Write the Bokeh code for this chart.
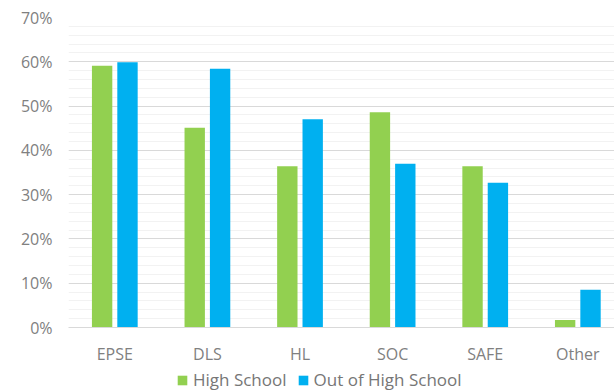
import numpy as np
from bokeh.plotting import figure
from bokeh.layouts import column
from bokeh.models import Range1d, FixedTicker, Legend, LegendItem, ColumnDataSource
from bokeh.embed import file_html
from bokeh.resources import INLINE

categories = ["EPSE", "DLS", "HL", "SOC", "SAFE", "Other"]
high_school = [59.1, 45.1, 36.4, 48.6, 36.4, 1.7]
out_of_high_school = [59.9, 58.4, 47.0, 37.0, 32.7, 8.5]
y_ticks = [0, 10, 20, 30, 40, 50, 60, 70]
series_names = ["High School", "Out of High School"]

GREEN = "#92D050"
BLUE = "#00B0F0"
FONT = "Open Sans"

x = np.arange(len(categories))
src = ColumnDataSource(dict(
    xg=x - 0.137, xb=x + 0.137,
    hs=high_school, ohs=out_of_high_school,
))

p = figure(width=614, height=367, output_backend="svg", toolbar_location=None,
           x_range=Range1d(-0.5, 5.396), y_range=Range1d(0, 70),
           min_border_left=68, min_border_right=0, min_border_top=17,
           min_border_bottom=40)
p.outline_line_color = None
p.background_fill_color = "white"
p.border_fill_color = "white"

p.vbar(x="xg", top="hs", width=0.22, source=src, fill_color=GREEN, line_color=None)
p.vbar(x="xb", top="ohs", width=0.22, source=src, fill_color=BLUE, line_color=None)

# y axis
p.yaxis.ticker = FixedTicker(ticks=y_ticks, minor_ticks=list(range(0, 71, 2)))
p.yaxis.major_label_overrides = {t: f"{t}%" for t in y_ticks}
p.yaxis.axis_line_color = None
p.yaxis.major_tick_line_color = None
p.yaxis.minor_tick_line_color = None
p.yaxis.major_label_standoff = 10
p.yaxis.major_label_text_font = FONT
p.yaxis.major_label_text_font_size = "16px"
p.yaxis.major_label_text_color = "#808080"

# x axis
p.xaxis.ticker = FixedTicker(ticks=list(x))
p.xaxis.major_label_overrides = {int(i): c for i, c in zip(x, categories)}
p.xaxis.axis_line_color = "#d9d9d9"
p.xaxis.major_tick_line_color = None
p.xaxis.minor_tick_line_color = None
p.xaxis.major_label_standoff = 9
p.xaxis.major_label_text_font = FONT
p.xaxis.major_label_text_font_size = "16px"
p.xaxis.major_label_text_color = "#808080"

p.xgrid.grid_line_color = None
p.ygrid.grid_line_color = "#d9d9d9"
p.ygrid.minor_grid_line_color = "#f2f2f2"

# legend strip (its frame is aligned with the main frame by the column layout)
lg = figure(width=614, height=25, output_backend="svg", toolbar_location=None,
            x_range=Range1d(0, 1), y_range=Range1d(0, 1),
            min_border_left=68, min_border_right=0, min_border_top=0, min_border_bottom=0)
lg.axis.visible = False
lg.grid.visible = False
lg.outline_line_color = None
lr1 = lg.vbar(x=[0.5], top=[0], width=0.1, fill_color=GREEN, line_color=None)
lr2 = lg.vbar(x=[0.5], top=[0], width=0.1, fill_color=BLUE, line_color=None)

legend = Legend(items=[LegendItem(label=series_names[0], renderers=[lr1]),
                       LegendItem(label=series_names[1], renderers=[lr2])],
                orientation="horizontal", location=(108, 1),
                label_text_font=FONT, label_text_font_size="17px",
                label_text_color="#767676", glyph_width=12, glyph_height=12,
                label_standoff=5, spacing=10, padding=0, margin=0,
                border_line_color=None, background_fill_alpha=0)
lg.add_layout(legend, "center")

layout = column(p, lg, spacing=0)
open("out.html", "w").write(file_html(layout, INLINE))
